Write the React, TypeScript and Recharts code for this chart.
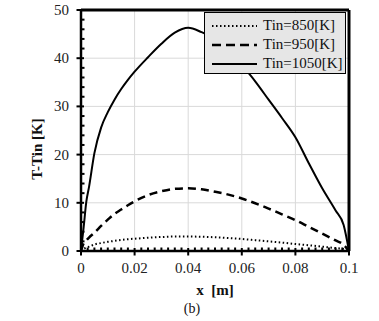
import React from 'react'
import { LineChart, Line, XAxis, YAxis, ReferenceLine, Legend } from 'recharts'

const xPos = [0, 0.001, 0.002, 0.003, 0.005, 0.0075, 0.01, 0.0125, 0.015, 0.0175, 0.02, 0.025, 0.03, 0.035, 0.04, 0.045, 0.05, 0.055, 0.06, 0.065, 0.07, 0.075, 0.08, 0.085, 0.09, 0.095, 0.098, 0.1]
const tin850 = [0, 0.4, 0.7, 0.9, 1.35, 1.65, 1.9, 2.1, 2.3, 2.45, 2.55, 2.75, 2.9, 3.0, 3.0, 2.95, 2.85, 2.7, 2.5, 2.25, 2.0, 1.75, 1.45, 1.2, 0.9, 0.6, 0.4, 0]
const tin950 = [0, 1.6, 2.2, 2.8, 3.8, 5.2, 6.5, 7.7, 8.6, 9.5, 10.3, 11.6, 12.4, 12.9, 13.0, 12.8, 12.3, 11.7, 10.9, 9.9, 8.8, 7.6, 6.4, 5.0, 3.6, 2.2, 1.3, 0]
const tin1050 = [0, 5, 10.3, 13.3, 20.3, 25.6, 28.8, 31.4, 33.6, 35.5, 37.2, 40.2, 43.0, 45.3, 46.3, 45.4, 44.0, 41.8, 38.6, 35.2, 31.4, 27.6, 23.6, 18.2, 13.0, 8.4, 5.4, 0]

const xMajor = [0, 0.02, 0.04, 0.06, 0.08, 0.1]
const xLabels = ['0', '0.02', '0.04', '0.06', '0.08', '0.1']
const yMajor = [0, 10, 20, 30, 40, 50]
const xMinor = Array.from({ length: 41 }, (_, i) => i * 0.0025)
const yMinor = Array.from({ length: 26 }, (_, i) => i * 2)

const data = xPos.map((x, i) => ({ x, t850: tin850[i], t950: tin950[i], t1050: tin1050[i] }))

const series = [
  { key: 't850', name: 'Tin=850[K]', dash: '1.5 2.5', width: 2 },
  { key: 't950', name: 'Tin=950[K]', dash: '8 5', width: 2.5 },
  { key: 't1050', name: 'Tin=1050[K]', dash: undefined, width: 2 },
]

const FONT = '"Liberation Serif", "Times New Roman", serif'

const XTick = (props: any) => {
  const { x, y, payload } = props
  const idx = xMajor.findIndex((m) => Math.abs(m - payload.value) < 1e-9)
  if (idx < 0) {
    return <line x1={x} x2={x} y1={y - 3.5} y2={y} stroke="#000" strokeWidth={2} />
  }
  return (
    <g>
      <line x1={x} x2={x} y1={y - 3} y2={y + 4.5} stroke="#000" strokeWidth={2} />
      <text x={x} y={y + 22} textAnchor="middle" fontSize={15} fontFamily={FONT} fill="#222">
        {xLabels[idx]}
      </text>
    </g>
  )
}

const YTick = (props: any) => {
  const { x, y, payload } = props
  const v = payload.value
  if (!yMajor.includes(v)) {
    return <line x1={x} x2={x + 3.5} y1={y} y2={y} stroke="#000" strokeWidth={2} />
  }
  return (
    <g>
      <line x1={x - 4.5} x2={x + 3} y1={y} y2={y} stroke="#000" strokeWidth={2} />
      <text x={x - 12} y={y + 5} textAnchor="end" fontSize={15} fontFamily={FONT} fill="#222">
        {v}
      </text>
    </g>
  )
}

const LegendBox = () => (
  <div
    style={{
      width: 142,
      height: 62,
      background: '#e6e6e6',
      border: '1.5px solid #000',
      boxSizing: 'border-box',
      fontFamily: FONT,
      fontSize: 15,
      color: '#111',
      paddingTop: 3,
    }}
  >
    {series.map((s) => (
      <div key={s.key} style={{ display: 'flex', alignItems: 'center', height: 19 }}>
        <svg width={52} height={10} style={{ marginLeft: 6 }}>
          <line x1={1} x2={46} y1={5} y2={5} stroke="#000" strokeWidth={s.width} strokeDasharray={s.dash === '8 5' ? '9 5' : s.dash} />
        </svg>
        <span style={{ whiteSpace: 'nowrap' }}>{s.name}</span>
      </div>
    ))}
  </div>
)

export default function App() {
  return (
    <div style={{ position: 'absolute', left: 0, top: 0, width: 379, height: 321, background: '#fff' }}>
      <LineChart width={379} height={321} data={data} margin={{ top: 10, right: 30, left: 0, bottom: 40 }}>
        {xMajor.slice(1, -1).map((v) => (
          <ReferenceLine key={'gx' + v} x={v} stroke="#d9d9d9" strokeWidth={1} />
        ))}
        {yMajor.slice(1, -1).map((v) => (
          <ReferenceLine key={'gy' + v} y={v} stroke="#d9d9d9" strokeWidth={1} />
        ))}
        <XAxis
          dataKey="x"
          type="number"
          domain={[0, 0.1]}
          ticks={xMinor}
          interval={0}
          tickLine={false}
          tickSize={0}
          tickMargin={0}
          tick={<XTick />}
          axisLine={{ stroke: '#000', strokeWidth: 2.5 }}
          height={30}
        />
        <YAxis
          type="number"
          domain={[0, 50]}
          ticks={yMinor}
          interval={0}
          tickLine={false}
          tickSize={0}
          tickMargin={0}
          tick={<YTick />}
          axisLine={{ stroke: '#000', strokeWidth: 2.5 }}
          width={81}
        />
        <ReferenceLine y={50} stroke="#000" strokeWidth={3} />
        <ReferenceLine x={0.1} stroke="#000" strokeWidth={3} />
        {series.map((s) => (
          <Line
            key={s.key}
            type="monotone"
            dataKey={s.key}
            name={s.name}
            stroke="#000"
            strokeWidth={s.width}
            strokeDasharray={s.dash}
            dot={false}
            isAnimationActive={false}
          />
        ))}
        <Legend
          layout="vertical"
          align="center"
          verticalAlign="middle"
          content={<LegendBox />}
          wrapperStyle={{ position: 'absolute', left: 204, top: 12, width: 142, height: 62 }}
        />
      </LineChart>
      <div
        style={{
          position: 'absolute',
          left: 37,
          top: 149,
          transform: 'translate(-50%, -50%) rotate(-90deg)',
          fontFamily: FONT,
          fontWeight: 'bold',
          fontSize: 15,
          whiteSpace: 'nowrap',
          color: '#111',
        }}
      >
        T-Tin [K]
      </div>
      <div
        style={{
          position: 'absolute',
          left: 215,
          top: 290,
          transform: 'translate(-50%, -50%)',
          fontFamily: FONT,
          fontWeight: 'bold',
          fontSize: 15,
          whiteSpace: 'pre',
          color: '#111',
        }}
      >
        {'x  [m]'}
      </div>
      <div
        style={{
          position: 'absolute',
          left: 192,
          top: 309,
          transform: 'translate(-50%, -50%)',
          fontFamily: FONT,
          fontSize: 14,
          color: '#111',
        }}
      >
        (b)
      </div>
    </div>
  )
}
